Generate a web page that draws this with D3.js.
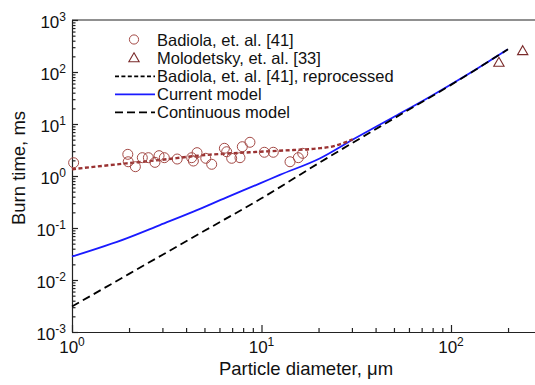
<!DOCTYPE html>
<html><head><meta charset="utf-8">
<script src="https://cdn.jsdelivr.net/npm/d3@7"></script>
<style>
html,body{margin:0;padding:0;background:#fff;}
svg{display:block;font-family:Arial,"Liberation Sans",sans-serif;}
</style></head>
<body><svg id="c" width="535" height="385"></svg>
<script>
// ---- data ----
const badiolaD = [1.02,1.97,1.98,2.16,2.35,2.53,2.74,2.88,3.07,3.59,4.28,4.37,4.57,5.08,5.46,6.37,6.55,6.96,7.70,7.92,8.69,10.35,11.54,14.14,15.64,16.5];
const badiolaT = [1.80,2.61,1.88,1.51,2.25,2.25,1.83,2.46,2.25,2.12,2.25,1.94,2.81,2.19,1.68,3.41,2.93,2.19,2.25,3.66,4.45,2.86,2.86,1.88,2.25,2.73];
const molodD = [179,239];
const molodT = [147,246];
const reprocD = [1,1.94,2.91,4.74,8.69,13.0,19.6,23.8,27.6,30.3];
const reprocT = [1.35,1.75,2.03,2.48,2.86,3.09,3.38,3.72,4.41,5.08];
const currentD = [1,1.94,2.91,4.37,6.55,9.82,12.5,20.4,30.5,49.6,77.5,121,199];
const currentT = [0.0283,0.0634,0.114,0.206,0.389,0.72,1.05,2.2,5.08,13.5,33.5,87.5,273];
const contD = [1,2,5,10,20,50,100,200];
const contT = [0.00309,0.0131,0.0883,0.372,1.76,12.8,56.5,274];
const xTickExp = [0,1,2];
const yTickExp = [-3,-2,-1,0,1,2,3];
const legendLabels = ["Badiola, et. al. [41]","Molodetsky, et. al. [33]","Badiola, et. al. [41], reprocessed","Current model","Continuous model"];
const xTitle = "Particle diameter, \u03bcm";
const yTitle = "Burn time, ms";

// ---- layout ----
const L = 72, T = 20, B = 332, R = 72 + 3*189.5;
const svg = d3.select("#c");
const x = d3.scaleLog().domain([1,1000]).range([L,R]);
const y = d3.scaleLog().domain([1e-3,1e3]).range([B,T]);
const axisCol = "#222";

function minors(lo, hi){ const a=[]; for(let e=lo;e<hi;e++){for(let k=2;k<=9;k++)a.push(k*Math.pow(10,e));} return a; }

svg.append("line").attr("x1",L).attr("x2",R).attr("y1",T).attr("y2",T).attr("stroke",axisCol).attr("stroke-width",1.2);

const gx = svg.append("g").attr("transform",`translate(0,${B})`);
gx.call(d3.axisBottom(x).tickValues(xTickExp.map(e=>Math.pow(10,e)).concat([1000])).tickSizeInner(-7).tickSizeOuter(0).tickFormat(""));
gx.append("g").call(d3.axisBottom(x).tickValues(minors(0,3)).tickSizeInner(-4).tickSizeOuter(0).tickFormat(""));
gx.selectAll("path,line").attr("stroke",axisCol).attr("stroke-width",1.2);
gx.selectAll("g > path").filter(function(){return this.parentNode!==gx.node();}).remove();

const gy = svg.append("g").attr("transform",`translate(${L},0)`);
gy.call(d3.axisLeft(y).tickValues(yTickExp.map(e=>Math.pow(10,e))).tickSizeInner(-6).tickSizeOuter(0).tickFormat(""));
gy.append("g").call(d3.axisLeft(y).tickValues(minors(-3,3)).tickSizeInner(-3.5).tickSizeOuter(0).tickFormat(""));
gy.selectAll("path,line").attr("stroke",axisCol).attr("stroke-width",1.2);
gy.selectAll("g > path").filter(function(){return this.parentNode!==gy.node();}).remove();

const xl = svg.append("g").attr("font-size",17).attr("fill","#111");
xTickExp.forEach(e=>{
  const t = xl.append("text").attr("x",x(Math.pow(10,e))).attr("y",353).attr("text-anchor","middle");
  t.append("tspan").text("10");
  t.append("tspan").attr("font-size",12).attr("dy",-7).text(e);
});
const yl = svg.append("g").attr("font-size",17).attr("fill","#111");
yTickExp.forEach(e=>{
  const t = yl.append("text").attr("x",66).attr("y",y(Math.pow(10,e))+7.5).attr("text-anchor","end");
  t.append("tspan").text("10");
  t.append("tspan").attr("font-size",12).attr("dy",-7).text(e);
});

svg.append("text").attr("x",306).attr("y",375).attr("text-anchor","middle").attr("font-size",18.5).attr("fill","#111").text(xTitle);
svg.append("text").attr("transform",`translate(25,168) rotate(-90)`).attr("text-anchor","middle").attr("font-size",18.5).attr("fill","#111").text(yTitle);

const line = d3.line().x(d=>x(d[0])).y(d=>y(d[1])).curve(d3.curveMonotoneX);
const zip = (a,b)=>a.map((v,i)=>[v,b[i]]);
const plot = svg.append("g");
plot.append("path").attr("d",line(zip(currentD,currentT))).attr("fill","none").attr("stroke","#1a1aff").attr("stroke-width",1.8);
plot.append("path").attr("d",line(zip(contD,contT))).attr("fill","none").attr("stroke","#000").attr("stroke-width",1.8).attr("stroke-dasharray","8,4.5");
plot.append("path").attr("d",line(zip(reprocD,reprocT))).attr("fill","none").attr("stroke","#9a3232").attr("stroke-width",2.4).attr("stroke-dasharray","4,2.5");

plot.selectAll("circle.b").data(zip(badiolaD,badiolaT)).join("circle").attr("class","b")
  .attr("cx",d=>x(d[0])).attr("cy",d=>y(d[1])).attr("r",5).attr("fill","none").attr("stroke","#a44a46").attr("stroke-width",1);
const tri = d3.symbol().type(d3.symbolTriangle).size(46);
plot.selectAll("path.m").data(zip(molodD,molodT)).join("path").attr("class","m")
  .attr("transform",d=>`translate(${x(d[0])},${y(d[1])})`).attr("d",tri()).attr("fill","none").attr("stroke","#7a2a2a").attr("stroke-width",1.1);

const lg = svg.append("g").attr("font-size",16.5).attr("fill","#111");
const rowY = [46,64.3,82.3,100.3,118.3];
legendLabels.forEach((s,i)=>{
  lg.append("text").attr("x",157).attr("y",rowY[i]).text(s);
});
lg.append("circle").attr("cx",134).attr("cy",rowY[0]-6.5).attr("r",4.6).attr("fill","none").attr("stroke","#a44a46").attr("stroke-width",1);
lg.append("path").attr("transform",`translate(134,${rowY[1]-5.5})`).attr("d",tri()).attr("fill","none").attr("stroke","#7a2a2a").attr("stroke-width",1.1);
lg.append("line").attr("x1",115).attr("x2",155).attr("y1",rowY[2]-6).attr("y2",rowY[2]-6).attr("stroke","#000").attr("stroke-width",1.8).attr("stroke-dasharray","4,2.4");
lg.append("line").attr("x1",115).attr("x2",155).attr("y1",rowY[3]-6).attr("y2",rowY[3]-6).attr("stroke","#1a1aff").attr("stroke-width",1.8);
lg.append("line").attr("x1",115).attr("x2",155).attr("y1",rowY[4]-6).attr("y2",rowY[4]-6).attr("stroke","#000").attr("stroke-width",1.8).attr("stroke-dasharray","8,4");
</script></body></html>
